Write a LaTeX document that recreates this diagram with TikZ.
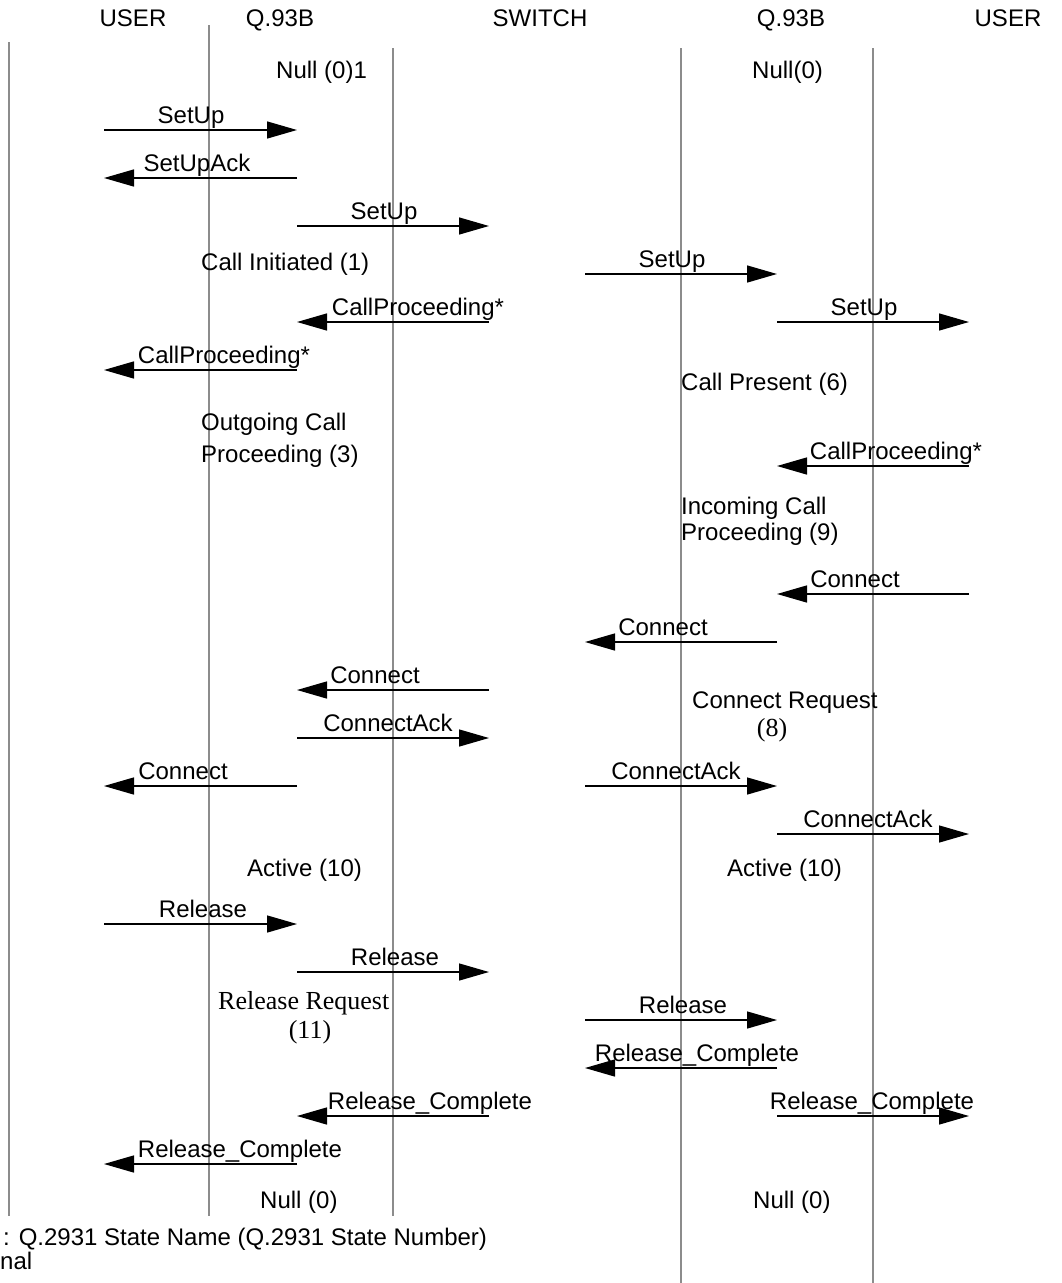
\documentclass[tikz,border=0pt]{standalone}
\usepackage{fontspec}
\setmainfont{Liberation Sans}
\newfontfamily\serifface{Liberation Serif}
\usetikzlibrary{arrows.meta}
\definecolor{lifegray}{HTML}{8C8C8C}
\tikzset{
  lifeline/.style={draw=lifegray, line width=2pt},
  msg/.style={draw=black, line width=1.4pt, -{Triangle[length=30pt,width=17pt]}},
  lbl/.style={inner sep=0pt, anchor=base, font=\fontsize{24}{28}\selectfont},
  txt/.style={inner sep=0pt, anchor=base west, font=\fontsize{24}{28}\selectfont},
  stxt/.style={inner sep=0pt, anchor=base, font=\serifface\fontsize{26}{30}\selectfont},
  stxtw/.style={inner sep=0pt, anchor=base west, font=\serifface\fontsize{26}{30}\selectfont},
}
\newcommand\msgarrow[6]{%
  \coordinate (#1s) at (#2,#4);
  \coordinate (#1e) at (#3,#4);
  \draw[msg] (#1s) -- (#1e);
  \node[lbl] (#1l) at (#6,#4-7) {#5};
}
\begin{document}
\begin{tikzpicture}[x=1pt,y=-1pt]
\useasboundingbox (0,0) rectangle (1062,1283);
% lifelines
\coordinate (l1t) at (8.5,42);  \coordinate (l1b) at (8.5,1216);
\coordinate (l2t) at (209,25);  \coordinate (l2b) at (209,1216);
\coordinate (l3t) at (393,48);  \coordinate (l3b) at (393,1216);
\coordinate (l4t) at (681,48);  \coordinate (l4b) at (681,1283);
\coordinate (l5t) at (872.5,48);\coordinate (l5b) at (872.5,1283);
\foreach \i in {1,...,5} {\draw[lifeline] (l\i t) -- (l\i b);}
% headers
\node[lbl] (h1) at (133,26) {USER};
\node[lbl] (h2) at (280,26) {Q.93B};
\node[lbl] (h3) at (540,26) {SWITCH};
\node[lbl] (h4) at (791,26) {Q.93B};
\node[lbl] (h5) at (1008,26) {USER};
% states
\node[txt] (s1) at (276,78) {Null (0)1};
\node[txt] (s2) at (752,78) {Null(0)};
\node[txt] (s3) at (201,270) {Call Initiated (1)};
\node[txt] (s4) at (681,390) {Call Present (6)};
\node[txt] (s5) at (201,430) {Outgoing Call};
\node[txt] (s5b) at (201,462) {Proceeding (3)};
\node[txt] (s6) at (681,514) {Incoming Call};
\node[txt] (s6b) at (681,540) {Proceeding (9)};
\node[txt] (s7) at (692,708) {Connect Request};
\node[stxt] (s7b) at (772,736) {(8)};
\node[txt] (s8) at (247,876) {Active (10)};
\node[txt] (s9) at (727,876) {Active (10)};
\node[stxtw] (s10) at (218,1009) {Release Request};
\node[stxt] (s10b) at (310,1038) {(11)};
\node[txt] (s11) at (260,1208) {Null (0)};
\node[txt] (s12) at (753,1208) {Null (0)};
\node[txt] (leg1) at (3,1245) {: Q.2931 State Name (Q.2931 State Number)};
\node[txt] (leg2) at (0,1269) {nal};
% messages
\msgarrow{m1}{104}{297}{130}{SetUp}{191}
\msgarrow{m2}{297}{104}{178}{SetUpAck}{197}
\msgarrow{m3}{297}{489}{226}{SetUp}{384}
\msgarrow{m4}{585}{777}{274}{SetUp}{672}
\msgarrow{m5}{489}{297}{322}{CallProceeding*}{418}
\msgarrow{m6}{777}{969}{322}{SetUp}{864}
\msgarrow{m7}{297}{104}{370}{CallProceeding*}{224}
\msgarrow{m8}{969}{777}{466}{CallProceeding*}{896}
\msgarrow{m9}{969}{777}{594}{Connect}{855}
\msgarrow{m10}{777}{585}{642}{Connect}{663}
\msgarrow{m11}{489}{297}{690}{Connect}{375}
\msgarrow{m12}{297}{489}{738}{ConnectAck}{388}
\msgarrow{m13}{297}{104}{786}{Connect}{183}
\msgarrow{m14}{585}{777}{786}{ConnectAck}{676}
\msgarrow{m15}{777}{969}{834}{ConnectAck}{868}
\msgarrow{m16}{104}{297}{924}{Release}{203}
\msgarrow{m17}{297}{489}{972}{Release}{395}
\msgarrow{m18}{585}{777}{1020}{Release}{683}
\msgarrow{m19}{777}{585}{1068}{Release\_Complete}{697}
\msgarrow{m20}{489}{297}{1116}{Release\_Complete}{430}
\msgarrow{m21}{777}{969}{1116}{Release\_Complete}{872}
\msgarrow{m22}{297}{104}{1164}{Release\_Complete}{240}
\end{tikzpicture}
\end{document}
